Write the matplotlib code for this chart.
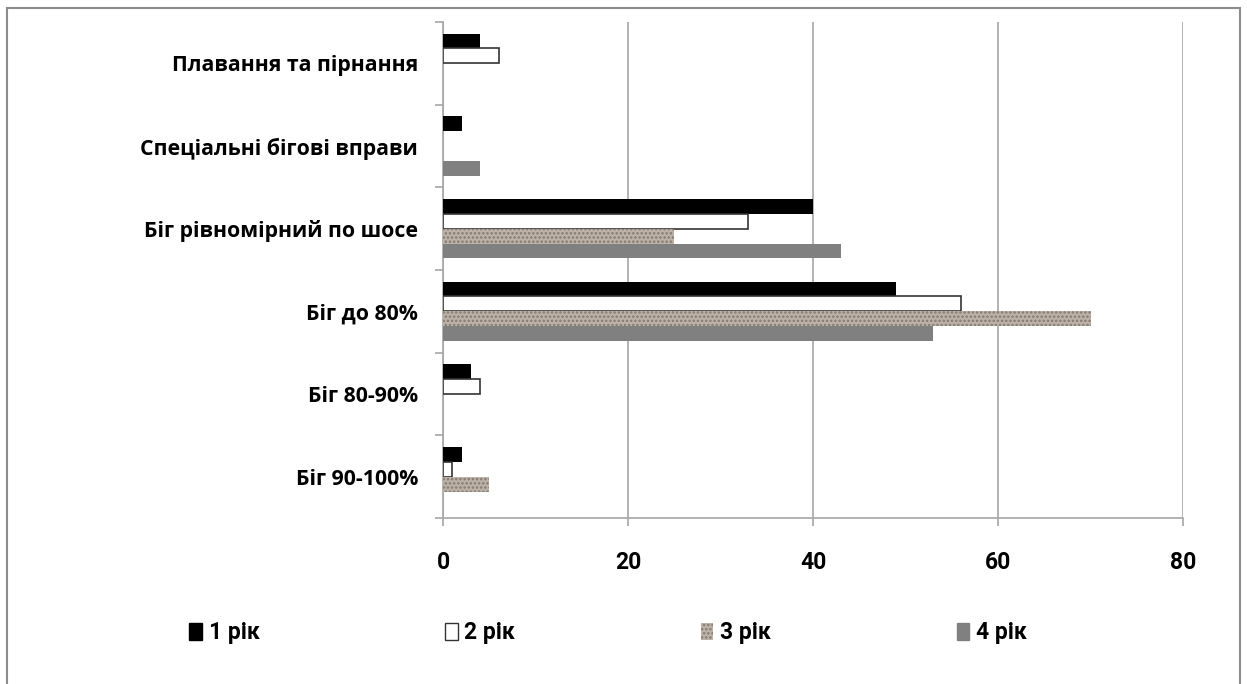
import numpy as np
import matplotlib
matplotlib.use("Agg")
import matplotlib.pyplot as plt
from matplotlib.patches import Rectangle, Patch
from matplotlib.ticker import FixedLocator

plt.rcParams['font.family'] = ['Roboto', 'DejaVu Sans']
plt.rcParams['font.weight'] = 'bold'
plt.rcParams['hatch.linewidth'] = 1.2

# categories bottom -> top
categories = ["Біг 90-100%", "Біг 80-90%", "Біг до 80%",
              "Біг рівномірний по шосе", "Спеціальні бігові вправи",
              "Плавання та пірнання"]
series_names = ["1 рік", "2 рік", "3 рік", "4 рік"]
year1 = [2, 3, 49, 40, 2, 4]
year2 = [1, 4, 56, 33, 0, 6]
year3 = [5, 0, 70, 25, 0, 0]
year4 = [0, 0, 53, 43, 4, 0]

fig = plt.figure(figsize=(12.47, 6.84), dpi=100)
ax = fig.add_axes([443/1247, 1-518/684, 740/1247, 496/684])

y = np.arange(len(categories))
h = 0.18
gray_ax = '#a6a6a6'

ax.barh(y + 1.5*h, year1, height=h, color='black', linewidth=0, zorder=3)
ax.barh(y + 0.5*h, year2, height=h, color='white', edgecolor='#333333',
        linewidth=[1.2 if v > 0 else 0 for v in year2], zorder=3)
ax.barh(y - 0.5*h, year3, height=h, color='#bdb2a8', edgecolor='#857a70',
        hatch='....', linewidth=0, zorder=3)
ax.barh(y - 1.5*h, year4, height=h, color='#808080', linewidth=0, zorder=3)

ax.set_xlim(0, 80)
ax.set_ylim(-0.5, len(categories) - 0.5)
ax.set_xticks([0, 20, 40, 60, 80])
ax.xaxis.grid(True, color=gray_ax, linewidth=1.2, zorder=0)
ax.set_yticks(y)
ax.set_yticklabels(categories, family=['Open Sans', 'DejaVu Sans'], fontsize=15.3)
ax.yaxis.set_minor_locator(FixedLocator(np.arange(-0.5, len(categories), 1)))
ax.tick_params(axis='y', which='major', length=0, pad=18)
ax.tick_params(axis='y', which='minor', length=6, color=gray_ax, width=1.2)
ax.tick_params(axis='x', length=6, color=gray_ax, width=1.2, pad=18, labelsize=16.5)

for s in ['top', 'right']:
    ax.spines[s].set_visible(False)
for s in ['left', 'bottom']:
    ax.spines[s].set_color(gray_ax)
    ax.spines[s].set_linewidth(1.2)

handles = [Patch(facecolor='black', edgecolor='black'),
           Patch(facecolor='white', edgecolor='#333333'),
           Patch(facecolor='#bdb2a8', edgecolor='#857a70', hatch='....', linewidth=0),
           Patch(facecolor='#808080', edgecolor='#808080')]
fig.legend(handles, series_names, loc='center', bbox_to_anchor=(608/1247, 1-633/684),
           ncol=4, frameon=False, fontsize=16.5, handlelength=0.55, handleheight=0.7,
           handletextpad=0.3, columnspacing=8.1)

fig.patches.append(Rectangle((7/1247, -0.02), 1233/1247, 1-8/684 + 0.02,
                             transform=fig.transFigure, fill=False,
                             edgecolor='#8c8c8c', linewidth=1.5))

fig.savefig("out.png", dpi=100)
